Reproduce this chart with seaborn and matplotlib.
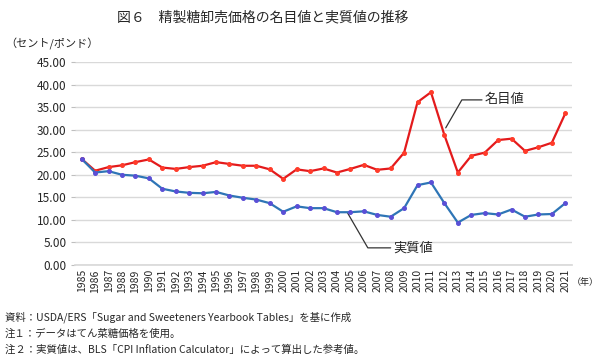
import numpy as np
import pandas as pd
import matplotlib
matplotlib.use("Agg")
import matplotlib.pyplot as plt
import seaborn as sns

years = list(range(1985, 2022))
nominal = [23.5, 20.9, 21.7, 22.1, 22.8, 23.4, 21.6, 21.3, 21.7, 22.0,
           22.8, 22.4, 22.0, 22.0, 21.2, 19.1, 21.2, 20.8, 21.4, 20.5,
           21.3, 22.2, 21.1, 21.4, 24.9, 36.1, 38.3, 28.8, 20.5, 24.2,
           24.9, 27.7, 28.0, 25.3, 26.1, 27.1, 33.6]
real = [23.5, 20.5, 20.8, 20.0, 19.8, 19.2, 16.9, 16.3, 16.0, 15.9,
        16.2, 15.4, 14.9, 14.5, 13.7, 11.8, 13.0, 12.6, 12.6, 11.7,
        11.7, 11.9, 11.1, 10.7, 12.6, 17.7, 18.3, 13.7, 9.4, 11.1,
        11.5, 11.2, 12.3, 10.7, 11.2, 11.3, 13.7]
y_ticks = [0, 5, 10, 15, 20, 25, 30, 35, 40, 45]

df = pd.DataFrame({"year": years, "名目値": nominal, "実質値": real})

sns.set_theme(style="white")
plt.rcParams["font.family"] = ["Noto Sans CJK JP", "DejaVu Sans"]

fig = plt.figure(figsize=(6.01, 3.58), dpi=100)
ax = fig.add_axes([75 / 601, 1 - 265 / 358, 497 / 601, 203 / 358])

sns.lineplot(data=df, x="year", y="名目値", ax=ax, color="#e31a1c", lw=1.6,
             marker="o", markersize=2.8, markerfacecolor="#ff3b2a",
             markeredgecolor="#ff3b2a", zorder=3)
sns.lineplot(data=df, x="year", y="実質値", ax=ax, color="#2e75b6", lw=1.6,
             marker="o", markersize=2.8, markerfacecolor="#5a4fd6",
             markeredgecolor="#5a4fd6", zorder=3)

ax.set_xlim(years[0] - 0.5, years[-1] + 0.5)
ax.set_ylim(0, 45)
ax.set_yticks(y_ticks)
ax.set_yticklabels([f"{v:.2f}" for v in y_ticks], fontsize=8.5)
ax.set_xticks(years)
ax.set_xticklabels([str(y) for y in years], rotation=90, fontsize=7.5)
ax.tick_params(axis="y", length=3, width=0.8, color="#bfbfbf", pad=3, left=True)
ax.tick_params(axis="x", length=0, pad=3)
ax.grid(axis="y", color="#d9d9d9", lw=1)
ax.set_xlabel("")
ax.set_ylabel("")
for s in ["top", "right", "left"]:
    ax.spines[s].set_visible(False)
ax.spines["bottom"].set_color("#d9d9d9")

# leader lines
ax.plot([2012.1, 2013.3, 2014.8], [30.4, 36.6, 36.6], color="#333333", lw=0.9)
ax.text(2015.0, 36.6, "名目値", fontsize=9.5, va="center", ha="left")
ax.plot([2004.8, 2006.3, 2008.0], [11.5, 3.8, 3.8], color="#333333", lw=0.9)
ax.text(2008.2, 3.8, "実質値", fontsize=9.5, va="center", ha="left")

fig.text(263 / 601, 1 - 17 / 358, "図６　精製糖卸売価格の名目値と実質値の推移",
         fontsize=10, ha="center", va="center")
fig.text(5 / 601, 1 - 44 / 358, "（セント/ポンド）", fontsize=8, ha="left", va="center")
fig.text(599 / 601, 1 - 283 / 358, "（年）", fontsize=6.5, ha="right", va="center")

notes = ["資料：USDA/ERS「Sugar and Sweeteners Yearbook Tables」を基に作成",
         "注１：データはてん菜糖価格を使用。",
         "注２：実質値は、BLS「CPI Inflation Calculator」によって算出した参考値。"]
for i, t in enumerate(notes):
    fig.text(5 / 601, 1 - (317 + 16.5 * i) / 358, t, fontsize=7.5,
             ha="left", va="center")

fig.savefig("out.png", dpi=100)
